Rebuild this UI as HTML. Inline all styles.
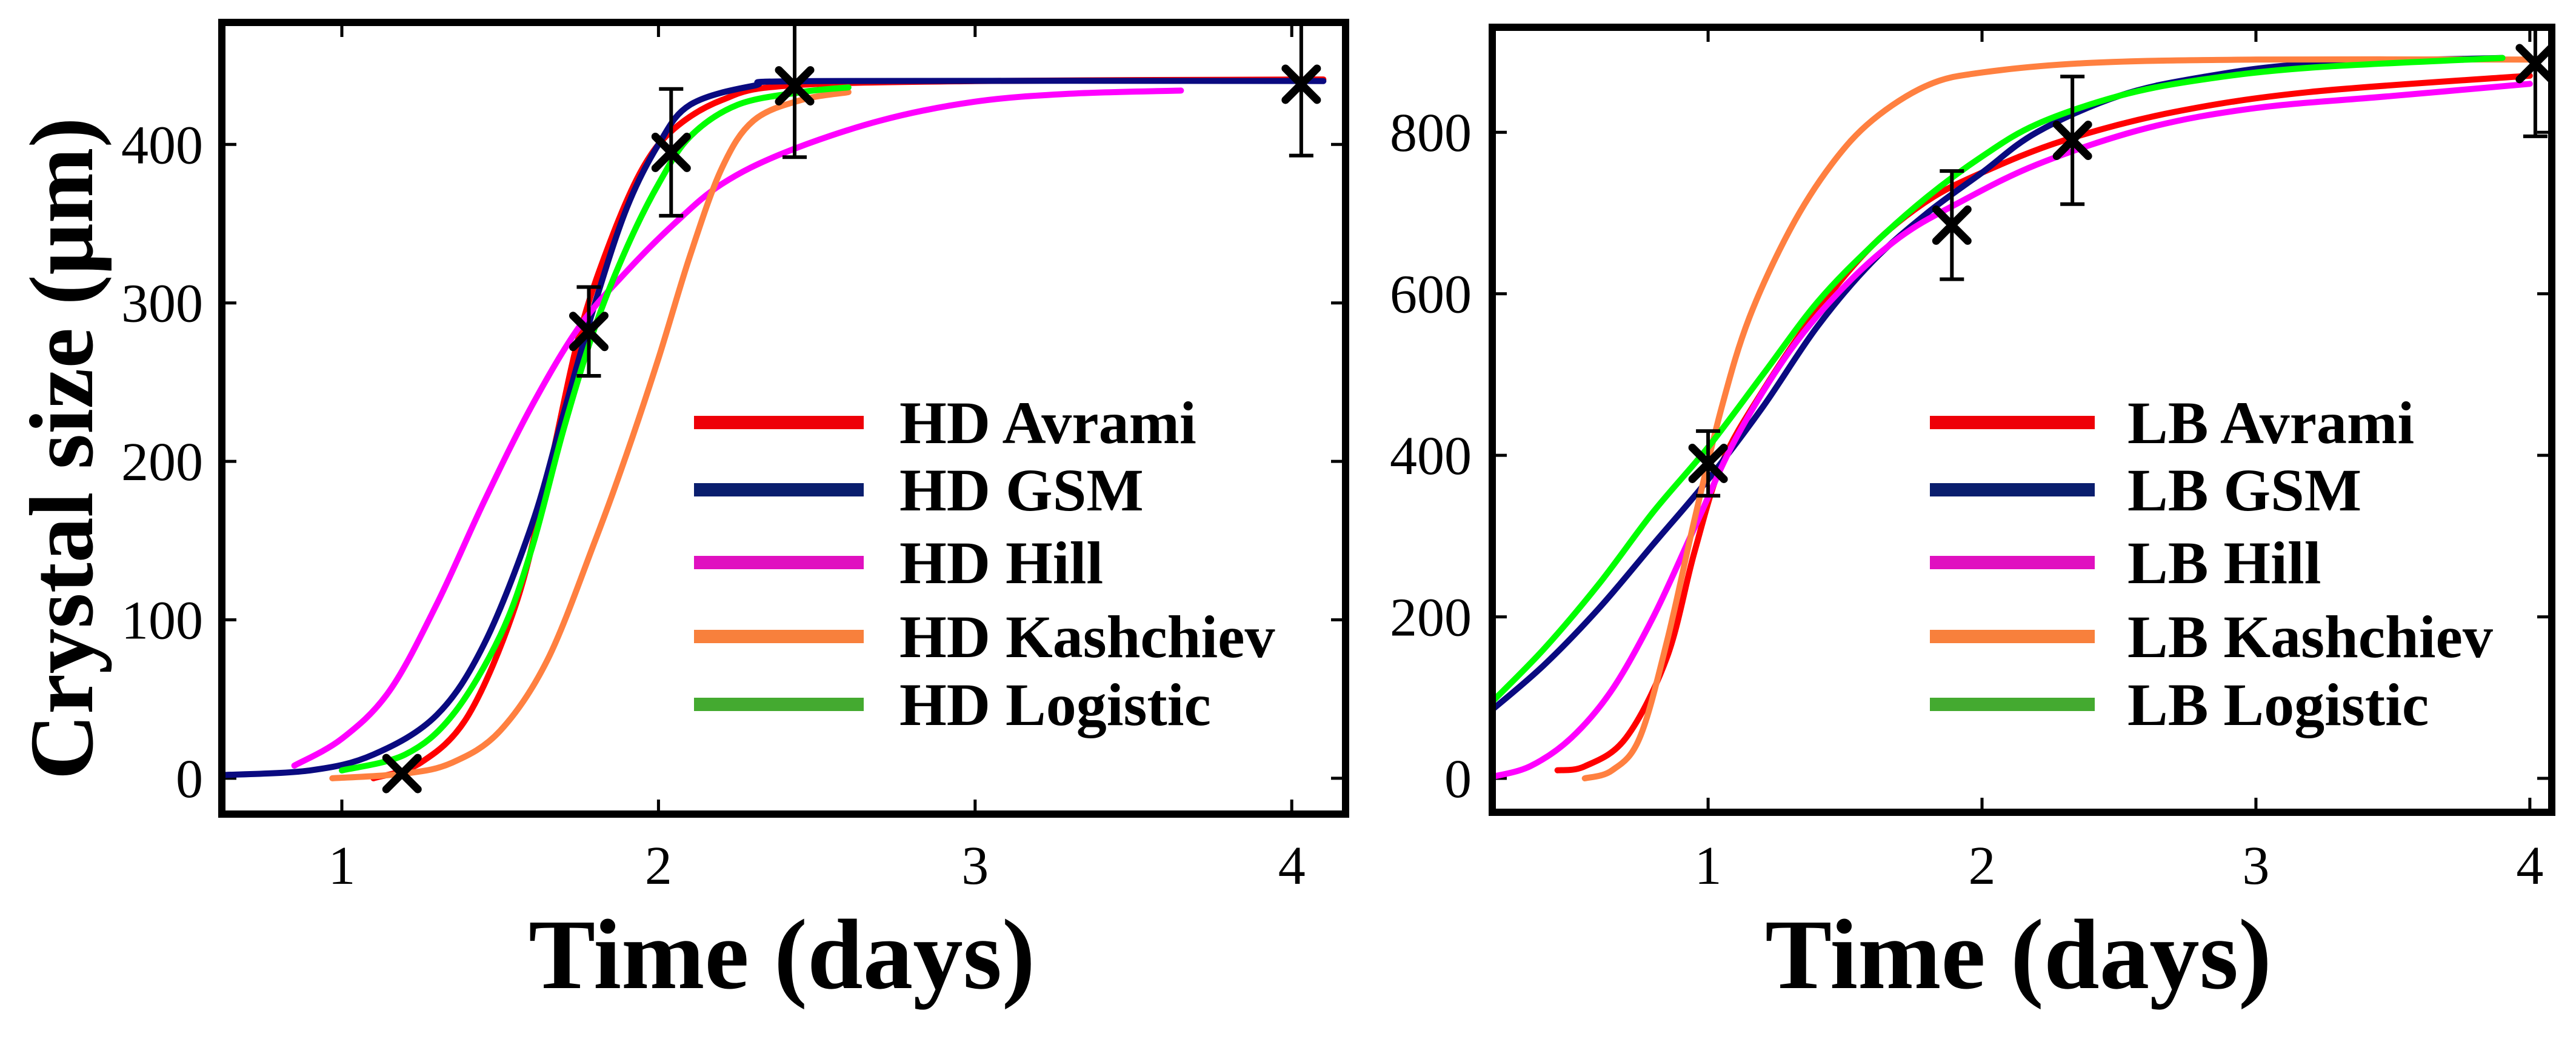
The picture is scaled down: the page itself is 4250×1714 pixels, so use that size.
<!DOCTYPE html>
<html><head><meta charset="utf-8">
<style>
html,body{margin:0;padding:0;background:#fff;}
svg{display:block;font-family:"Liberation Serif","DejaVu Serif",serif;}
</style></head>
<body>
<svg id="fig" width="4250" height="1714" viewBox="0 0 4250 1714" xmlns="http://www.w3.org/2000/svg">
<rect width="4250" height="1714" fill="#fff"/>
</svg>
<script>
// ---------- HD panel data ----------
const hdXTicks = [1, 2, 3, 4];
const hdYTicks = [0, 100, 200, 300, 400];
const hdAvramiX = [1.1, 1.25, 1.4, 1.55, 1.65, 1.75, 1.85, 1.95, 2.05, 2.2, 2.4, 3.0, 4.1];
const hdAvramiY = [0, 10, 40, 110, 190, 280, 340, 385, 410, 428, 437, 440, 441];
const hdGsmX = [0.62, 0.9, 1.1, 1.3, 1.45, 1.6, 1.7, 1.8, 1.9, 2.0, 2.1, 2.3, 2.5, 4.1];
const hdGsmY = [2, 5, 15, 40, 85, 160, 230, 300, 360, 400, 425, 437, 440, 440];
const hdHillX = [0.85, 1.0, 1.15, 1.3, 1.45, 1.6, 1.75, 1.9, 2.05, 2.2, 2.4, 2.7, 3.0, 3.3, 3.65];
const hdHillY = [8, 25, 55, 110, 175, 235, 285, 320, 350, 375, 395, 415, 427, 432, 434];
const hdKashX = [0.97, 1.2, 1.35, 1.5, 1.65, 1.8, 1.9, 2.0, 2.1, 2.2, 2.3, 2.45, 2.6];
const hdKashY = [0, 3, 10, 30, 75, 150, 205, 265, 330, 385, 415, 428, 433];
const hdLogX = [1.0, 1.2, 1.35, 1.5, 1.6, 1.7, 1.8, 1.9, 2.0, 2.1, 2.25, 2.45, 2.6];
const hdLogY = [5, 15, 40, 90, 145, 220, 285, 335, 375, 405, 425, 433, 436];
const hdPtX = [1.19, 1.78, 2.04, 2.43, 4.03];
const hdPtY = [3, 282, 395, 437, 438];
const hdPtErr = [0, 28, 40, 45, 45];
const hdLegend = ["HD Avrami", "HD GSM", "HD Hill", "HD Kashchiev", "HD Logistic"];

// ---------- LB panel data ----------
const lbXTicks = [1, 2, 3, 4];
const lbYTicks = [0, 200, 400, 600, 800];
const lbAvramiX = [0.45, 0.55, 0.7, 0.85, 0.95, 1.05, 1.2, 1.4, 1.6, 1.8, 2.0, 2.3, 2.7, 3.2, 4.0];
const lbAvramiY = [10, 15, 50, 150, 280, 390, 480, 580, 660, 715, 750, 790, 825, 850, 870];
const lbGsmX = [0.212, 0.4, 0.6, 0.8, 1.0, 1.2, 1.4, 1.6, 1.8, 2.0, 2.2, 2.5, 2.8, 3.2, 3.9];
const lbGsmY = [85, 140, 210, 290, 370, 460, 560, 640, 700, 750, 800, 845, 868, 885, 892];
const lbHillX = [0.212, 0.35, 0.5, 0.65, 0.8, 0.95, 1.1, 1.3, 1.5, 1.7, 1.9, 2.2, 2.6, 3.0, 3.5, 4.0];
const lbHillY = [2, 15, 50, 110, 200, 310, 420, 530, 610, 670, 710, 760, 805, 830, 845, 860];
const lbKashX = [0.55, 0.65, 0.75, 0.85, 0.95, 1.05, 1.15, 1.3, 1.45, 1.6, 1.8, 2.0, 2.4, 3.0, 4.0];
const lbKashY = [0, 10, 50, 170, 320, 460, 570, 680, 760, 815, 858, 874, 886, 890, 890];
const lbLogX = [0.212, 0.4, 0.6, 0.8, 1.0, 1.2, 1.4, 1.6, 1.8, 2.0, 2.2, 2.5, 2.8, 3.2, 3.9];
const lbLogY = [95, 160, 240, 330, 410, 500, 590, 660, 720, 770, 810, 845, 865, 880, 892];
const lbPtX = [1.0, 1.89, 2.33, 4.02];
const lbPtY = [390, 685, 790, 885];
const lbPtErr = [40, 67, 79, 90];
const lbLegend = ["LB Avrami", "LB GSM", "LB Hill", "LB Kashchiev", "LB Logistic"];

const curveColors = ["#ff0000", "#0a0a80", "#ff00ff", "#ff8040", "#00ff00"];
const legendColors = ["#ee0008", "#0a1e6e", "#e010c0", "#f8803c", "#44aa30"];

const NS = "http://www.w3.org/2000/svg";
const svg = document.getElementById("fig");
function mk(tag, attrs, parent) {
  const e = document.createElementNS(NS, tag);
  for (const k in attrs) e.setAttribute(k, attrs[k]);
  (parent || svg).appendChild(e);
  return e;
}
function smoothPath(pts) {
  let d = "M" + pts[0][0].toFixed(1) + "," + pts[0][1].toFixed(1);
  for (let i = 0; i < pts.length - 1; i++) {
    const p0 = pts[i - 1] || pts[i], p1 = pts[i], p2 = pts[i + 1], p3 = pts[i + 2] || p2;
    const c1x = p1[0] + (p2[0] - p0[0]) / 6, c1y = p1[1] + (p2[1] - p0[1]) / 6;
    const c2x = p2[0] - (p3[0] - p1[0]) / 6, c2y = p2[1] - (p3[1] - p1[1]) / 6;
    d += " C" + c1x.toFixed(1) + "," + c1y.toFixed(1) + " " + c2x.toFixed(1) + "," + c2y.toFixed(1) + " " + p2[0].toFixed(1) + "," + p2[1].toFixed(1);
  }
  return d;
}

function panel(cfg) {
  const g = mk("g", {});
  
  
  const L = cfg.left, R = cfg.right, T = cfg.top, B = cfg.bottom;
  const sx = v => L + (v - cfg.xmin) / (cfg.xmax - cfg.xmin) * (R - L);
  const sy = v => B - (v - cfg.ymin) / (cfg.ymax - cfg.ymin) * (B - T);
  const clipId = cfg.name + "-clip";
  const defs = mk("defs", {}, g);
  const cp = mk("clipPath", { id: clipId }, defs);
  mk("rect", { x: L, y: T, width: R - L, height: B - T }, cp);

  cfg.xTicks.forEach(t => {
    const x = sx(t);
    const tk = mk("path", { d: `M${x},${B}v-24M${x},${T}v24`, stroke: "#000", "stroke-width": 5 }, g);
    
    
    const tl = mk("text", { x: x, y: cfg.xLabelY, "font-size": 90, "text-anchor": "middle" }, g);
    tl.textContent = t;
    
    
  });
  cfg.yTicks.forEach(t => {
    const y = sy(t);
    const tk = mk("path", { d: `M${L},${y}h24M${R},${y}h-24`, stroke: "#000", "stroke-width": 5 }, g);
    
    
    const tl = mk("text", { x: cfg.yLabelX, y: y + 31, "font-size": 90, "text-anchor": "end" }, g);
    tl.textContent = t;
    
    
  });

  const cg = mk("g", { "clip-path": `url(#${clipId})` }, g);
  cfg.series.forEach((s, i) => {
    const pts = s[0].map((xv, j) => [sx(xv), sy(s[1][j])]);
    const p = mk("path", { d: smoothPath(pts), fill: "none", stroke: curveColors[i], "stroke-width": 10, "stroke-linecap": "round", "stroke-linejoin": "round" }, cg);
    
    
  });

  cfg.ptX.forEach((xv, i) => {
    const x = sx(xv), y = sy(cfg.ptY[i]);
    if (cfg.ptErr[i] > 0) {
      const y1 = sy(cfg.ptY[i] + cfg.ptErr[i]), y2 = sy(cfg.ptY[i] - cfg.ptErr[i]);
      const eb = mk("path", { d: `M${x},${y1}V${y2}M${x - 20},${y1}h40M${x - 20},${y2}h40`, stroke: "#000", "stroke-width": 6, fill: "none" }, cg);
      
      
    }
    const m = mk("path", { d: `M${x - 26},${y - 26}L${x + 26},${y + 26}M${x - 26},${y + 26}L${x + 26},${y - 26}`, stroke: "#000", "stroke-width": 13, "stroke-linecap": "round" }, cg);
    
    
  });

  const fr = mk("rect", { x: L, y: T, width: R - L, height: B - T, fill: "none", stroke: "#000", "stroke-width": 12 }, g);
  
  

  const lg = mk("g", {}, g);
  
  
  cfg.legend.forEach((lab, i) => {
    const y = cfg.legY[i];
    const ln = mk("rect", { x: cfg.legX1, y: y - 11, width: cfg.legX2 - cfg.legX1, height: 22, fill: legendColors[i] }, lg);
    
    
    const tx = mk("text", { x: cfg.legTextX, y: y + 34, "font-size": 100, "font-weight": "bold" }, lg);
    tx.textContent = lab;
    
    
  });

  const xt = mk("text", { x: cfg.xTitleX, y: 1630, "font-size": 165, "font-weight": "bold", "text-anchor": "middle" }, g);
  xt.textContent = "Time (days)";
  
  
}

panel({
  name: "hd-panel", left: 366, right: 2220, top: 37, bottom: 1343,
  xmin: 0.621, xmax: 4.17, ymin: -22.6, ymax: 477,
  xTicks: hdXTicks, yTicks: hdYTicks, xLabelY: 1458, yLabelX: 335,
  series: [[hdAvramiX, hdAvramiY], [hdGsmX, hdGsmY], [hdHillX, hdHillY], [hdKashX, hdKashY], [hdLogX, hdLogY]],
  seriesNames: ["hd-avrami-curve", "hd-gsm-curve", "hd-hill-curve", "hd-kashchiev-curve", "hd-logistic-curve"],
  ptX: hdPtX, ptY: hdPtY, ptErr: hdPtErr,
  legend: hdLegend, legX1: 1145, legX2: 1425, legTextX: 1484, legY: [697, 808, 928, 1050, 1162],
  xTitleX: 1290
});
panel({
  name: "lb-panel", left: 2462, right: 4210, top: 45, bottom: 1340,
  xmin: 0.212, xmax: 4.08, ymin: -42, ymax: 930,
  xTicks: lbXTicks, yTicks: lbYTicks, xLabelY: 1458, yLabelX: 2428,
  series: [[lbAvramiX, lbAvramiY], [lbGsmX, lbGsmY], [lbHillX, lbHillY], [lbKashX, lbKashY], [lbLogX, lbLogY]],
  seriesNames: ["lb-avrami-curve", "lb-gsm-curve", "lb-hill-curve", "lb-kashchiev-curve", "lb-logistic-curve"],
  ptX: lbPtX, ptY: lbPtY, ptErr: lbPtErr,
  legend: lbLegend, legX1: 3184, legX2: 3456, legTextX: 3510, legY: [697, 808, 928, 1050, 1162],
  xTitleX: 3330
});

const yt = mk("text", { x: 0, y: 0, "font-size": 150, "font-weight": "bold", "text-anchor": "middle", transform: "translate(152,740) rotate(-90)" });
yt.textContent = "Crystal size (\u03bcm)";


</script>
</body></html>
